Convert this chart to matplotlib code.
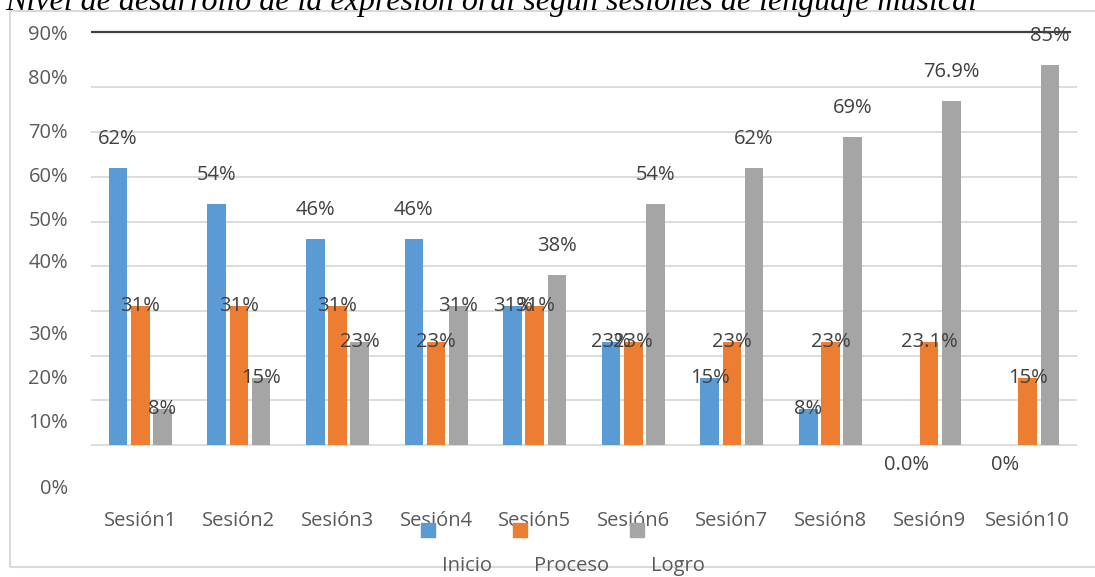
import matplotlib
matplotlib.use("Agg")
import matplotlib.pyplot as plt
from matplotlib.patches import Rectangle
import numpy as np

# ---------------- data ----------------
categories = ["Sesión1", "Sesión2", "Sesión3", "Sesión4", "Sesión5",
              "Sesión6", "Sesión7", "Sesión8", "Sesión9", "Sesión10"]
series_names = ["Inicio", "Proceso", "Logro"]
inicio = [62, 54, 46, 46, 31, 23, 15, 8, 0, 0]
proceso = [31, 31, 31, 23, 31, 23, 23, 23, 23.1, 15]
logro = [8, 15, 23, 31, 38, 54, 62, 69, 76.9, 85]
inicio_labels = ["62%", "54%", "46%", "46%", "31%", "23%", "15%", "8%", "0.0%", "0%"]
proceso_labels = ["31%", "31%", "31%", "23%", "31%", "23%", "23%", "23%", "23.1%", "15%"]
logro_labels = ["8%", "15%", "23%", "31%", "38%", "54%", "62%", "69%", "76.9%", "85%"]
ytick_labels = ["90%", "80%", "70%", "60%", "50%", "40%", "30%", "20%", "10%", "0%"]
grid_values = [0, 10, 20, 30, 40, 50, 60, 70, 80]
title = "Nivel de desarrollo de la expresión oral según sesiones de lenguaje musical"

# ---------------- style ----------------
W, H = 1095, 577
colors = ["#5B9BD5", "#ED7D31", "#A5A5A5"]
txt_color = "#595959"
lbl_color = "#404040"
font = ["Open Sans", "DejaVu Sans"]
fs = 14.5

fig = plt.figure(figsize=(W / 100, H / 100), dpi=100)
fig.patch.set_facecolor("white")

def px(x, y):
    return x / W, 1 - y / H

# outer border (right side runs past the image edge)
fig.patches.append(Rectangle(px(10, 567), (1110 - 10) / W, (567 - 11) / H,
                             transform=fig.transFigure, fill=False,
                             edgecolor="#D9D9D9", lw=1.5, zorder=0))

ymin, ymax = -12, 95
ax_left, ax_right = 91, 1077
zero_px, per_pct = 445, 4.47
top_px = zero_px - ymax * per_pct
bot_px = zero_px - ymin * per_pct
ax = fig.add_axes([ax_left / W, 1 - bot_px / H, (ax_right - ax_left) / W,
                   (bot_px - top_px) / H])
ax.set_xlim(-0.5, len(categories) - 0.5)
ax.set_ylim(ymin, ymax)
ax.patch.set_alpha(0)
for s in ax.spines.values():
    s.set_visible(False)

# gridlines
for g in grid_values:
    ax.axhline(g, color="#D9D9D9", lw=1.3, zorder=0)
# dark top line
ax.axhline(92.3, xmin=0, xmax=(1070 - ax_left) / (ax_right - ax_left),
           color="#404040", lw=1.6, zorder=1)

x = np.arange(len(categories))
bw = 0.19
offs = [-0.225, 0, 0.225]
all_vals = [inicio, proceso, logro]
all_lbls = [inicio_labels, proceso_labels, logro_labels]
for i, (vals, lbls) in enumerate(zip(all_vals, all_lbls)):
    ax.bar(x + offs[i], vals, width=bw, color=colors[i], zorder=2)
    for xi, v, l in zip(x + offs[i], vals, lbls):
        if v == 0:
            dy = -20
        elif v > 35:
            dy = 29
        else:
            dy = 0
        ax.annotate(l, (xi, v), xytext=(0, dy), textcoords="offset pixels",
                    ha="center", va="center", fontsize=fs, family=font,
                    color=lbl_color, zorder=3)

# x tick labels
ax.set_xticks(x)
ax.set_xticklabels(categories, fontsize=fs, family=font, color=txt_color)
ax.tick_params(axis="x", length=0, pad=9)

# y tick labels (placed as in the reference)
ytick_px = [32.5, 76, 130, 174, 219, 261, 332, 377, 421, 487]
ax.set_yticks([(zero_px - p) / per_pct for p in ytick_px])
ax.set_yticklabels(ytick_labels, fontsize=fs, family=font, color=txt_color)
ax.tick_params(axis="y", length=0, pad=(ax_left - 68) * 72 / 100)

# legend (markers and labels on separate rows)
marker_x = [428, 520, 637]
label_x = [467, 572, 678]
for mx, lx, c, n in zip(marker_x, label_x, colors, series_names):
    fig.patches.append(Rectangle(px(mx - 7, 537), 14 / W, 14 / H,
                                 transform=fig.transFigure, color=c, zorder=3))
    fig.text(*px(lx, 566), n, ha="center", va="center", fontsize=fs,
             family=font, color=txt_color)

# title (partly cut off at top)
fig.text(*px(5, 10), title, ha="left", va="baseline", fontsize=23,
         family=["Liberation Serif"], style="italic", color="black")

fig.savefig("out.png", dpi=100)
